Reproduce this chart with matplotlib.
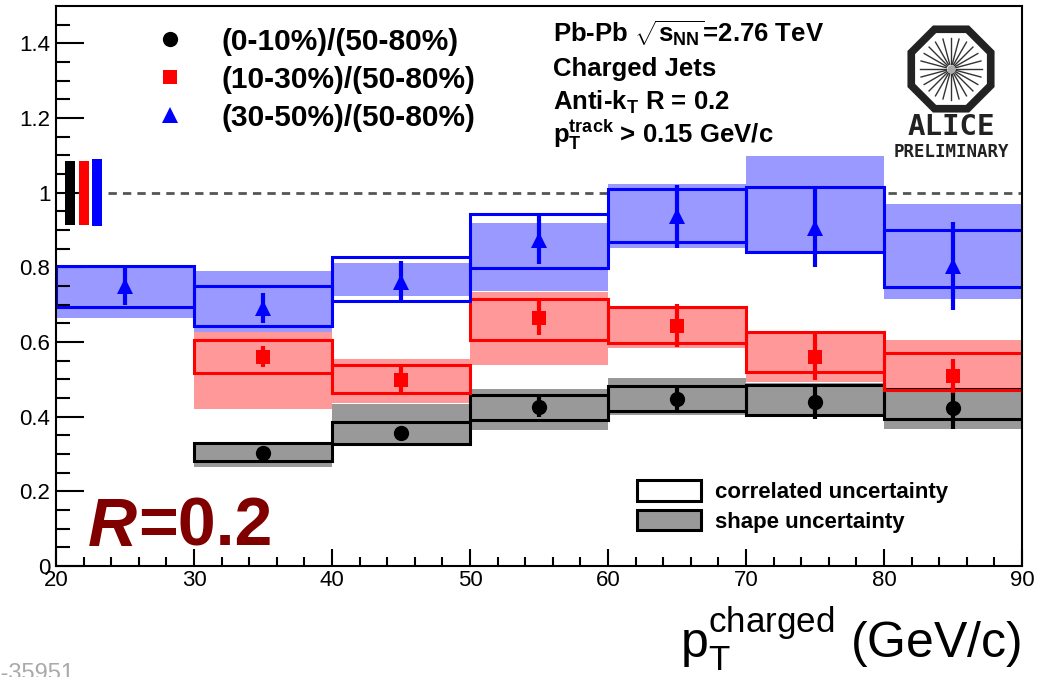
import numpy as np
import matplotlib.pyplot as plt
from matplotlib.patches import Patch, RegularPolygon

plt.rcParams['font.family'] = ['Liberation Sans', 'DejaVu Sans']
plt.rcParams['mathtext.fontset'] = 'custom'
plt.rcParams['mathtext.rm'] = 'Liberation Sans'
plt.rcParams['mathtext.it'] = 'Liberation Sans:italic'
plt.rcParams['mathtext.bf'] = 'Liberation Sans:bold'

# --- data: ratio of central to peripheral jet spectra, R = 0.2 ---
labels = ['(0-10%)/(50-80%)', '(10-30%)/(50-80%)', '(30-50%)/(50-80%)']
bin_width = 10

# (0-10%)/(50-80%)
pt_0_10 = [35, 45, 55, 65, 75, 85]
ratio_0_10 = [0.304, 0.357, 0.427, 0.448, 0.440, 0.424]
stat_0_10 = [0.010, 0.015, 0.027, 0.032, 0.047, 0.056]
corr_lo_0_10 = [0.280, 0.327, 0.390, 0.414, 0.405, 0.394]
corr_hi_0_10 = [0.330, 0.387, 0.458, 0.481, 0.485, 0.474]
shape_lo_0_10 = [0.266, 0.327, 0.363, 0.405, 0.405, 0.367]
shape_hi_0_10 = [0.330, 0.434, 0.474, 0.503, 0.490, 0.475]

# (10-30%)/(50-80%)
pt_10_30 = [35, 45, 55, 65, 75, 85]
ratio_10_30 = [0.561, 0.499, 0.665, 0.644, 0.561, 0.509]
stat_10_30 = [0.027, 0.034, 0.047, 0.057, 0.062, 0.046]
corr_lo_10_30 = [0.517, 0.464, 0.606, 0.597, 0.521, 0.472]
corr_hi_10_30 = [0.606, 0.539, 0.716, 0.694, 0.626, 0.570]
shape_lo_10_30 = [0.420, 0.437, 0.539, 0.584, 0.494, 0.470]
shape_hi_10_30 = [0.628, 0.555, 0.735, 0.697, 0.626, 0.606]

# (30-50%)/(50-80%)
pt_30_50 = [25, 35, 45, 55, 65, 75, 85]
ratio_30_50 = [0.749, 0.692, 0.762, 0.874, 0.937, 0.905, 0.804]
stat_30_50 = [0.050, 0.040, 0.054, 0.065, 0.085, 0.104, 0.117]
corr_lo_30_50 = [0.693, 0.643, 0.709, 0.799, 0.868, 0.840, 0.747]
corr_hi_30_50 = [0.804, 0.750, 0.829, 0.944, 1.010, 1.014, 0.901]
shape_lo_30_50 = [0.665, 0.628, 0.722, 0.738, 0.852, 0.840, 0.715]
shape_hi_30_50 = [0.804, 0.789, 0.812, 0.920, 1.023, 1.099, 0.970]

# normalisation uncertainty boxes at y = 1
norm_x = [21, 22, 23]
norm_unc = [0.086, 0.086, 0.089]

series = [
    (pt_0_10, ratio_0_10, stat_0_10, corr_lo_0_10, corr_hi_0_10, shape_lo_0_10, shape_hi_0_10,
     'black', '#999999', 'o', 11),
    (pt_10_30, ratio_10_30, stat_10_30, corr_lo_10_30, corr_hi_10_30, shape_lo_10_30, shape_hi_10_30,
     '#ff0000', '#ff9999', 's', 9.5),
    (pt_30_50, ratio_30_50, stat_30_50, corr_lo_30_50, corr_hi_30_50, shape_lo_30_50, shape_hi_30_50,
     '#0000ff', '#9999ff', '^', 11),
]
line_colors = [s[7] for s in series]

fig = plt.figure(figsize=(10.45, 6.77), dpi=100)
ax = fig.add_axes([0.0536, 0.164, 0.9244, 0.827])

ax.hlines(1, 23.8, 90, colors='#555555', linestyles=(0, (3, 2.2)), linewidth=2, zorder=0.5)

# shape uncertainty (filled)
for x, y, e, clo, chi, slo, shi, lc, fc, m, ms in series:
    ax.bar(x, np.array(shi) - np.array(slo), bottom=slo, width=bin_width,
           color=fc, linewidth=0, zorder=1)

# correlated uncertainty (open boxes)
for x, y, e, clo, chi, slo, shi, lc, fc, m, ms in series:
    ax.bar(x, np.array(chi) - np.array(clo), bottom=clo, width=bin_width,
           fill=False, edgecolor=lc, linewidth=2.2, zorder=2)

# points with statistical errors
handles = []
for x, y, e, clo, chi, slo, shi, lc, fc, m, ms in series:
    ax.errorbar(x, y, yerr=e, fmt='none', ecolor=lc, elinewidth=3, capsize=0, zorder=3)
    h, = ax.plot(x, y, linestyle='none', marker=m, markersize=ms, color=lc,
                 markeredgewidth=0, zorder=4)
    handles.append(h)

# normalisation boxes
ax.bar(norm_x, 2 * np.array(norm_unc), bottom=1 - np.array(norm_unc), width=0.72,
       color=line_colors, linewidth=0, zorder=2)

ax.set_xlim(20, 90)
ax.set_ylim(0, 1.5)
ax.set_xticks(np.arange(20, 91, 10))
ax.set_xticks(np.arange(20, 91, 2), minor=True)
yt = [0, 0.2, 0.4, 0.6, 0.8, 1.0, 1.2, 1.4]
ax.set_yticks(yt)
ax.set_yticklabels(['0', '0.2', '0.4', '0.6', '0.8', '1', '1.2', '1.4'])
ax.set_yticks(np.arange(0, 1.5, 0.05), minor=True)
ax.tick_params(axis='both', which='both', direction='in', top=False, right=False, width=1.5)
ax.tick_params(axis='y', which='major', length=20, labelsize=16, pad=4)
ax.tick_params(axis='y', which='minor', length=10)
ax.tick_params(axis='x', which='major', length=12, labelsize=16, pad=3)
ax.tick_params(axis='x', which='minor', length=6.5)
for sp in ax.spines.values():
    sp.set_linewidth(1.5)

leg1 = ax.legend(handles, labels, loc='upper left', bbox_to_anchor=(0.1025, 0.961),
                 frameon=False, borderpad=0, borderaxespad=0, handlelength=1.0,
                 handletextpad=1.23, labelspacing=0.33,
                 prop={'weight': 'bold', 'size': 21.5})
ax.add_artist(leg1)

box_handles = [Patch(facecolor='white', edgecolor='black', linewidth=2.2),
               Patch(facecolor='#999999', edgecolor='black', linewidth=2.2)]
ax.legend(box_handles, ['correlated uncertainty', 'shape uncertainty'],
          loc='upper left', bbox_to_anchor=(0.601, 0.153), frameon=False,
          borderpad=0, borderaxespad=0, handlelength=2.9, handleheight=1.04,
          handletextpad=0.63, labelspacing=0.3,
          prop={'weight': 'bold', 'size': 16})

# system info
info = [r'Pb-Pb $\sqrt{\mathbf{s}_{\mathbf{NN}}}$=2.76 TeV',
        'Charged Jets',
        r'Anti-k$_{\mathbf{T}}$ R = 0.2',
        r'p$_{\mathbf{T}}^{\mathbf{track}}$ > 0.15 GeV/c']
for txt, yb in zip(info, [43, 76, 110, 143]):
    fig.text(553 / 1045, (677 - yb) / 677, txt, fontsize=18.5, fontweight='bold',
             ha='left', va='baseline')

fig.text(88 / 1045, (677 - 546) / 677, 'R', fontsize=49, fontweight='bold',
         style='italic', color='#800000', va='baseline')
fig.text(138 / 1045, (677 - 546) / 677, '=0.2', fontsize=49, fontweight='bold',
         color='#800000', va='baseline')

fig.text(0.977, (677 - 658) / 677, r'$\mathrm{p}_{\mathrm{T}}^{\mathrm{charged}}$ (GeV/c)',
         fontsize=36, ha='right', va='baseline')

fig.text(75 / 1045, -0.005, 'ALI-PREL-35951', fontsize=17, color='#aaaaaa',
         ha='right', va='baseline')

# ALICE logo
lax = fig.add_axes([890 / 1045, (677 - 160) / 677, 120 / 1045, 140 / 677])
lax.set_xlim(890, 1010)
lax.set_ylim(160, 20)
lax.axis('off')
lax.add_patch(RegularPolygon((951, 69), numVertices=8, radius=43, orientation=np.pi / 8,
                             fill=False, edgecolor='#222222', linewidth=5.5))
for a in np.linspace(0, 2 * np.pi, 24, endpoint=False):
    lax.plot([951 + 5 * np.cos(a), 951 + 31 * np.cos(a)],
             [69 + 5 * np.sin(a), 69 + 31 * np.sin(a)], color='#333333', linewidth=1)
lax.plot([951], [69], marker='o', markersize=5, color='#aaaaaa')
lax.text(951, 135, 'ALICE', ha='center', va='baseline', family='DejaVu Sans Mono',
         fontsize=21, fontweight='bold', color='#222222')
lax.text(951, 157, 'PRELIMINARY', ha='center', va='baseline', family='DejaVu Sans Mono',
         fontsize=12.5, fontweight='bold', color='#222222')

fig.savefig('out.png', dpi=100)
